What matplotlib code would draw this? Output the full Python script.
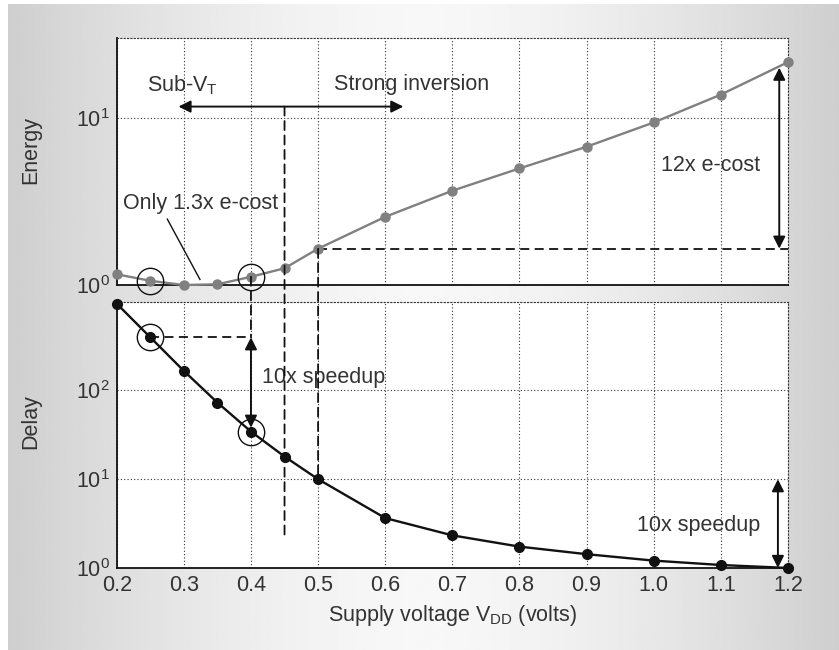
import numpy as np
import matplotlib
matplotlib.use("Agg")
import matplotlib.pyplot as plt
from matplotlib.patches import ConnectionPatch
from matplotlib.ticker import NullLocator

plt.rcParams['font.family'] = ['Liberation Sans', 'DejaVu Sans']
plt.rcParams['mathtext.fontset'] = 'custom'
plt.rcParams['mathtext.rm'] = 'Liberation Sans'
plt.rcParams['mathtext.default'] = 'regular'

# data
vdd = [0.2, 0.25, 0.3, 0.35, 0.4, 0.45, 0.5, 0.6, 0.7, 0.8, 0.9, 1.0, 1.1, 1.2]
energy = [1.16, 1.06, 1.0, 1.01, 1.12, 1.26, 1.65, 2.56, 3.67, 4.99, 6.73, 9.4, 13.8, 21.6]
delay = [950, 397, 166, 73, 34.4, 18, 10, 3.65, 2.33, 1.74, 1.43, 1.21, 1.08, 1.0]
xticks = [0.2, 0.3, 0.4, 0.5, 0.6, 0.7, 0.8, 0.9, 1.0, 1.1, 1.2]
xticklabels = ['0.2', '0.3', '0.4', '0.5', '0.6', '0.7', '0.8', '0.9', '1.0', '1.1', '1.2']
circled = [0.25, 0.4]

txt = '#333333'
fs = 15.5

fig = plt.figure(figsize=(8.39, 6.5), dpi=100)

# gradient backdrop
bg = fig.add_axes([8/839, 0, 1 - 8/839, 1 - 4/650])
gx = np.linspace(-1, 1, 400)
shade = 0.81 + 0.16 * (1 - np.abs(gx) ** 1.6)
bg.imshow(np.tile(shade, (10, 1)), cmap='gray', vmin=0, vmax=1, aspect='auto',
          extent=[0, 1, 0, 1])
bg.set_axis_off()

ax1 = fig.add_axes([0.1391, 0.5615, 0.8001, 0.3796])
ax2 = fig.add_axes([0.1391, 0.1262, 0.8001, 0.4097])

dash = (0, (5, 3))
dot = (0, (1, 2))

for ax in (ax1, ax2):
    ax.set_facecolor('white')
    ax.set_yscale('log')
    ax.set_xlim(0.2, 1.2)
    ax.set_xticks(xticks)
    ax.yaxis.set_minor_locator(NullLocator())
    ax.grid(True, linestyle=dot, color='#333333', lw=0.8)
    ax.tick_params(length=0, labelsize=fs, labelcolor=txt, pad=5)
    for s in ('top', 'right'):
        ax.spines[s].set_linestyle(dot)
        ax.spines[s].set_linewidth(0.8)
        ax.spines[s].set_color('#333333')
    for s in ('left', 'bottom'):
        ax.spines[s].set_linewidth(1.3)
        ax.spines[s].set_color('#111111')

# energy panel
ax1.set_ylim(1, 30)
ax1.set_yticks([1, 10])
ax1.set_yticklabels(['$10^0$', '$10^1$'])
ax1.set_xticklabels([])
ax1.plot(vdd, energy, color='#808080', lw=1.7, marker='o', ms=6.5, clip_on=False, zorder=3)
ce = [energy[vdd.index(v)] for v in circled]
ax1.plot(circled, ce, ls='none', marker='o', ms=19, mfc='none', mec='#111111', mew=1.0,
         clip_on=False, zorder=4)

# delay panel
ax2.set_ylim(1, 1000)
ax2.set_yticks([1, 10, 100, 1000])
ax2.set_yticklabels(['$10^0$', '$10^1$', '$10^2$', ''])
ax2.set_xticklabels(xticklabels)
ax2.plot(vdd, delay, color='#111111', lw=1.7, marker='o', ms=7, clip_on=False, zorder=3)
cd = [delay[vdd.index(v)] for v in circled]
ax2.plot(circled, cd, ls='none', marker='o', ms=19, mfc='none', mec='#111111', mew=1.0,
         clip_on=False, zorder=4)

ax2.set_xlabel('Supply voltage V$_{DD}$ (volts)', fontsize=fs, color=txt, labelpad=5)
fig.text(31/839, 1 - 150/650, 'Energy', rotation=90, ha='center', va='center',
         fontsize=fs, color=txt)
fig.text(31/839, 1 - 422/650, 'Delay', rotation=90, ha='center', va='center',
         fontsize=fs, color=txt)

arrow = dict(arrowstyle='<|-|>', mutation_scale=18, lw=1.4, color='#111111',
             shrinkA=0, shrinkB=0)

# region arrows and labels
ax1.annotate('', xy=(0.292, 11.7), xytext=(0.627, 11.7), arrowprops=arrow)
ax1.text(0.245, 15.8, 'Sub-V$_T$', fontsize=fs, color=txt, ha='left', va='center')
ax1.text(0.524, 15.8, 'Strong inversion', fontsize=fs, color=txt, ha='left', va='center')

ax1.text(0.21, 3.06, 'Only 1.3x e-cost', fontsize=fs, color=txt, ha='left', va='center')
ax1.plot([0.2754, 0.324], [2.48, 1.08], color='#111111', lw=1.0)

# energy cost arrow at high Vdd
ax1.plot([0.5, 1.2], [1.65, 1.65], ls=dash, color='#111111', lw=1.3)
ax1.annotate('', xy=(1.187, 20), xytext=(1.187, 1.65), arrowprops=arrow)
ax1.text(1.158, 5.18, '12x e-cost', fontsize=fs, color=txt, ha='right', va='center')

# speedup arrows
ax2.plot([0.25, 0.4], [397, 397], ls=dash, color='#111111', lw=1.3)
ax2.annotate('', xy=(0.4, 397), xytext=(0.4, 38), arrowprops=arrow)
ax2.text(0.417, 140, '10x speedup', fontsize=fs, color=txt, ha='left', va='center')
ax2.annotate('', xy=(1.185, 10), xytext=(1.185, 1.0), arrowprops=arrow)
ax2.text(1.158, 3.04, '10x speedup', fontsize=fs, color=txt, ha='right', va='center')

# dashed verticals crossing both panels
for xa, ya, yb in [(0.45, 11.7, 2.17), (0.5, 1.65, 10), (0.4, 1.12, 397)]:
    con = ConnectionPatch(xyA=(xa, ya), coordsA=ax1.transData,
                          xyB=(xa, yb), coordsB=ax2.transData,
                          ls=dash, color='#111111', lw=1.3, zorder=2)
    fig.add_artist(con)

fig.savefig('out.png', dpi=100)
